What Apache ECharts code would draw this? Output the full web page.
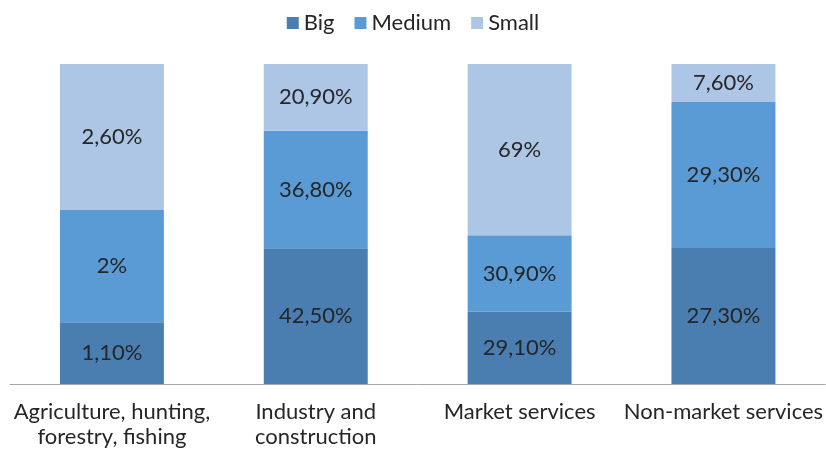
<!DOCTYPE html>
<html><head><meta charset="utf-8">
<script src="https://cdn.jsdelivr.net/npm/echarts@6/dist/echarts.min.js"></script>
<style>html,body{margin:0;padding:0;background:#fff}#c{width:826px;height:451px}</style>
</head><body><div id="c"></div>
<script>
const categories = ['Agriculture, hunting,\nforestry, fishing', 'Industry and\nconstruction', 'Market services', 'Non-market services'];
const big = [1.10, 42.50, 29.10, 27.30];
const medium = [2, 36.80, 30.90, 29.30];
const small = [2.60, 20.90, 69, 7.60];
const seriesNames = ['Big', 'Medium', 'Small'];
const colors = ['#4a7eb0', '#5b9bd5', '#aec6e6'];

const raw = [big, medium, small];
const totals = categories.map((_, i) => big[i] + medium[i] + small[i]);
function fmt(v) { return (Number.isInteger(v) ? String(v) : v.toFixed(2).replace('.', ',')) + '%'; }

const chart = echarts.init(document.getElementById('c'), null, {renderer: 'canvas'});
const FONT = 'Lato';
const FS = 22;
chart.setOption({
  animation: false,
  color: colors,
  textStyle: {fontFamily: FONT},
  legend: {
    top: 7, left: 'center', itemWidth: 12, itemHeight: 12, itemGap: 20,
    icon: 'rect',
    textStyle: {fontSize: FS, color: '#262626', fontFamily: FONT},
    data: seriesNames
  },
  grid: {left: 10, right: 0, top: 64, bottom: 67, containLabel: false},
  xAxis: {
    type: 'category', data: categories,
    axisLine: {lineStyle: {color: '#a6a6a6', width: 1}},
    axisTick: {show: false},
    axisLabel: {fontSize: FS, color: '#262626', margin: 15, lineHeight: 25, fontFamily: FONT, interval: 0}
  },
  yAxis: {type: 'value', min: 0, max: 100, show: false, splitLine: {show: false}},
  series: raw.map((arr, s) => ({
    name: seriesNames[s], type: 'bar', stack: 'total', barWidth: '51%',
    data: arr.map((v, i) => v / totals[i] * 100),
    label: {
      show: true, position: 'inside', fontSize: FS, color: '#262626', fontFamily: FONT,
      formatter: p => fmt(arr[p.dataIndex])
    }
  }))
});
</script></body></html>
